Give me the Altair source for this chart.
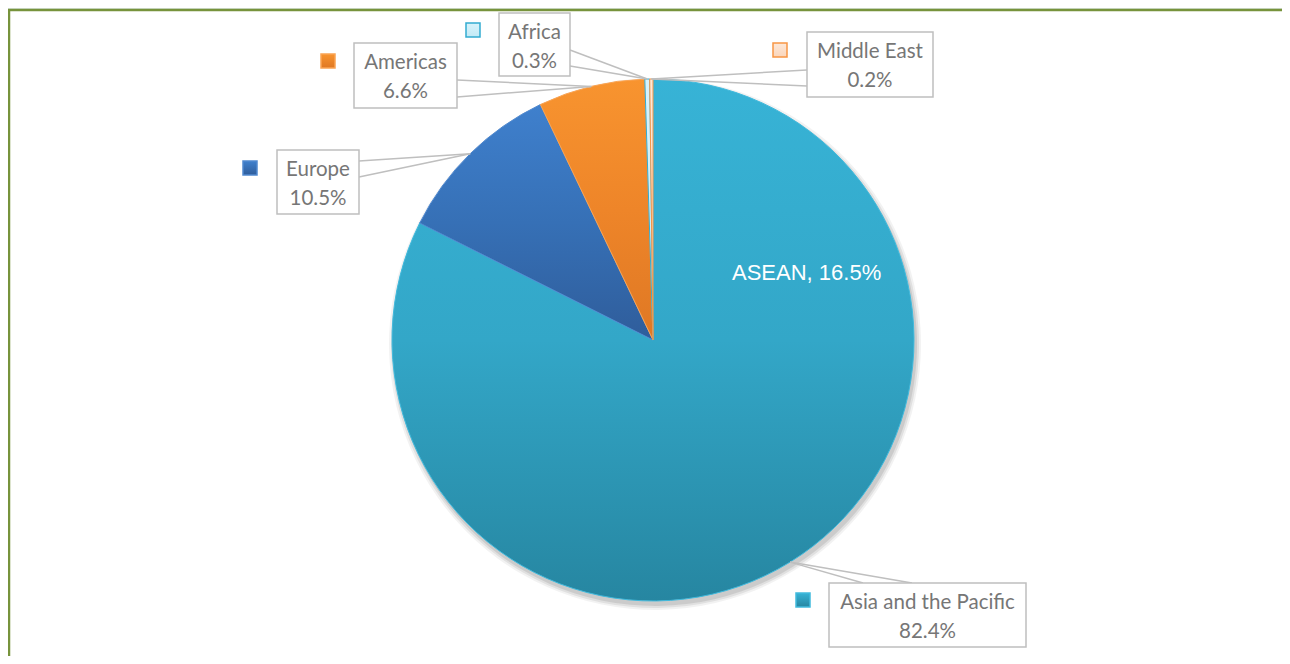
import altair as alt
import numpy as np
import pandas as pd

# ---------------- data ----------------
regions = ["Asia and the Pacific", "Europe", "Americas", "Africa", "Middle East"]
shares = [82.4, 10.5, 6.6, 0.3, 0.2]
sub_name = "ASEAN"
sub_share = 16.5

# ---------------- layout / styles (kept apart from the data) ----------------
W, H = 1274, 648
OFF = 8  # page margin: layout numbers below are in window pixels
CX, CY, R = 653, 340, 261

styles = {
    "Asia and the Pacific": dict(stops=["#37B3D6", "#33A7C8", "#2686A1"], stroke="#41BADD"),
    "Europe": dict(stops=["#3F80CD", "#3670B6", "#2F5D9B"], stroke="#5089D0"),
    "Americas": dict(stops=["#F8942F", "#EE8529", "#DF7824"], stroke="#FAA453"),
    "Africa": dict(stops=["#D8F3FB", "#CDEFF9", "#C2EAF6"], stroke="#33ACD1"),
    "Middle East": dict(stops=["#FDE8D8", "#FCE0CB", "#FAD6BC"], stroke="#F79646"),
}
# label boxes: (x0, y0, x1, y1), leader attach points, legend-marker centre
boxes = {
    "Asia and the Pacific": dict(box=(829, 583, 1026, 647), a=[(863, 583), (912, 583)], m=(803, 600)),
    "Europe": dict(box=(277, 150, 359, 214), a=[(359, 161), (359, 177)], m=(250, 168)),
    "Americas": dict(box=(354, 43, 457, 108), a=[(457, 80), (457, 97)], m=(328, 61)),
    "Africa": dict(box=(499, 13, 570, 76), a=[(570, 50), (570, 66)], m=(473, 30)),
    "Middle East": dict(box=(807, 32, 933, 97), a=[(807, 70), (807, 86)], m=(780, 50)),
}
sub_pos = (732, 280)
MK = 7  # half size of legend marker
LINE_GRAY = "#BFBFBF"
TEXT_GRAY = "#767676"

xs = alt.Scale(domain=[OFF, OFF + W], range=[0, W])
ys = alt.Scale(domain=[OFF, OFF + H], range=[0, H])


def X(f):
    return alt.X(f, type="quantitative", scale=xs, axis=None)


def Y(f):
    return alt.Y(f, type="quantitative", scale=ys, axis=None)


# ---------------- derived geometry ----------------
frac = np.array(shares) / 100.0
ends = np.cumsum(frac) * 2 * np.pi
starts = ends - frac * 2 * np.pi
mids = (starts + ends) / 2
pie = pd.DataFrame({
    "region": regions,
    "share": shares,
    "t0": starts,
    "t1": ends,
    "cx": CX,
    "cy": CY,
    "tipx": CX + R * np.sin(mids),
    "tipy": CY - R * np.cos(mids),
})

layers = []

# frame
frame_df = pd.DataFrame({"x0": [9], "y0": [10], "x1": [1400], "y1": [800]})
layers.append(
    alt.Chart(frame_df).mark_rect(fill="white", stroke="#77933C", strokeWidth=2.5)
    .encode(x=X("x0"), y=Y("y0"), x2="x1", y2="y1")
)

# soft shadow
for dr, op in [(5, 0.05), (3, 0.07), (1, 0.09)]:
    layers.append(
        alt.Chart(pie).mark_arc(outerRadius=R + dr, fill="#000000", opacity=op, stroke=None)
        .transform_calculate(sx=f"datum.cx + 2", sy=f"datum.cy + 4")
        .encode(x=X("sx"), y=Y("sy"),
                theta=alt.Theta("t0:Q", scale=None), theta2="t1")
    )

# slices
for reg in regions:
    st = styles[reg]
    grad = alt.Gradient(
        gradient="linear",
        stops=[alt.GradientStop(color=st["stops"][0], offset=0),
               alt.GradientStop(color=st["stops"][1], offset=0.5),
               alt.GradientStop(color=st["stops"][2], offset=1)],
        x1=0, x2=0, y1=0, y2=1,
    )
    layers.append(
        alt.Chart(pie).transform_filter(alt.datum.region == reg)
        .mark_arc(outerRadius=R, fill=grad, stroke=st["stroke"], strokeWidth=1)
        .encode(x=X("cx"), y=Y("cy"),
                theta=alt.Theta("t0:Q", scale=None), theta2="t1",
                tooltip=["region:N", "share:Q"])
    )

# ASEAN inner label
sub_df = pd.DataFrame({"txt": [f"{sub_name}, {sub_share}%"], "x": [sub_pos[0]], "y": [sub_pos[1]]})
layers.append(
    alt.Chart(sub_df).mark_text(font="Liberation Sans", fontSize=22, color="white",
                                align="left", baseline="alphabetic")
    .encode(x=X("x"), y=Y("y"), text="txt:N")
)

# leader lines
lead_rows = []
for _, r in pie.iterrows():
    for ax, ay in boxes[r["region"]]["a"]:
        lead_rows.append({"x": ax, "y": ay, "x2": r["tipx"], "y2": r["tipy"]})
lead_df = pd.DataFrame(lead_rows)
layers.append(
    alt.Chart(lead_df).mark_rule(color=LINE_GRAY, strokeWidth=1.5)
    .encode(x=X("x"), y=Y("y"), x2="x2", y2="y2")
)

# label boxes and texts
box_rows = []
for reg, s in zip(regions, shares):
    b = boxes[reg]["box"]
    box_rows.append({"region": reg, "pct": f"{s}%", "x0": b[0], "y0": b[1], "x1": b[2], "y1": b[3],
                     "tx": (b[0] + b[2]) / 2, "ty1": b[1] + 26, "ty2": b[1] + 55})
box_df = pd.DataFrame(box_rows)
layers.append(
    alt.Chart(box_df).mark_rect(fill="white", stroke=LINE_GRAY, strokeWidth=1.5)
    .encode(x=X("x0"), y=Y("y0"), x2="x1", y2="y1")
)
layers.append(
    alt.Chart(box_df).mark_text(font="Lato", fontSize=20.5, color=TEXT_GRAY,
                                align="center", baseline="alphabetic")
    .encode(x=X("tx"), y=Y("ty1"), text="region:N")
)
layers.append(
    alt.Chart(box_df).mark_text(font="Lato", fontSize=20.5, color=TEXT_GRAY,
                                align="center", baseline="alphabetic")
    .encode(x=X("tx"), y=Y("ty2"), text="pct:N")
)

# legend markers
for reg in regions:
    st = styles[reg]
    mx, my = boxes[reg]["m"]
    grad = alt.Gradient(
        gradient="linear",
        stops=[alt.GradientStop(color=st["stops"][0], offset=0),
               alt.GradientStop(color=st["stops"][2], offset=1)],
        x1=0, x2=0, y1=0, y2=1,
    )
    mdf = pd.DataFrame({"x0": [mx - MK], "x1": [mx + MK], "y0": [my - MK], "y1": [my + MK]})
    layers.append(
        alt.Chart(mdf).mark_rect(fill=grad, stroke=st["stroke"], strokeWidth=1.5)
        .encode(x=X("x0"), y=Y("y0"), x2="x1", y2="y1")
    )

chart = (
    alt.layer(*layers)
    .properties(width=W, height=H, padding=0,
                autosize=alt.AutoSizeParams(type="none"),
                background="#DDE7E2")
    .configure_view(stroke=None)
)

chart.save("out.html", embed_options={"renderer": "svg", "actions": False})
